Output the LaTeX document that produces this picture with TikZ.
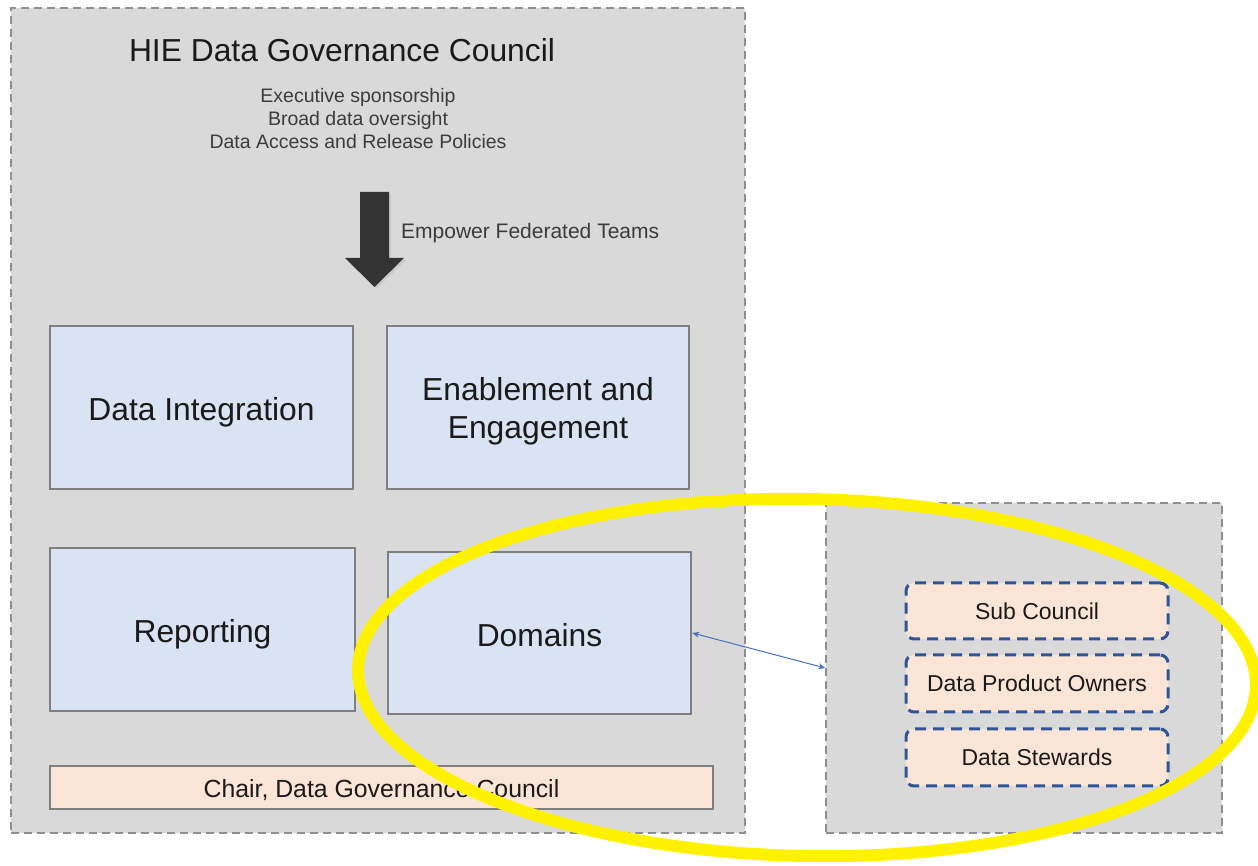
\documentclass[tikz,border=0pt]{standalone}
\usepackage{fontspec}
\setmainfont{Liberation Sans}
\usetikzlibrary{arrows.meta,shapes.geometric}
\definecolor{panelgray}{HTML}{D9D9D9}
\definecolor{panelline}{HTML}{8F8F8F}
\definecolor{boxblue}{HTML}{DAE3F3}
\definecolor{boxline}{HTML}{7F7F7F}
\definecolor{peach}{HTML}{FBE5D6}
\definecolor{dashblue}{HTML}{2F5597}
\definecolor{linkblue}{HTML}{4472C4}
\definecolor{arrowdark}{HTML}{333333}
\definecolor{txt}{HTML}{1A1A1A}
\tikzset{
  x=1pt, y=1pt,
  panel/.style={draw=panelline, fill=panelgray, line width=1.5pt, dash pattern=on 8pt off 5pt, inner sep=0pt},
  bluebox/.style={draw=boxline, fill=boxblue, line width=2.5pt, inner sep=0pt, align=center, font=\fontsize{31.8}{38}\selectfont, text=txt, text height=26.5pt, text depth=0pt},
  chairbox/.style={draw=boxline, fill=peach, line width=2pt, inner sep=0pt, font=\fontsize{24.8}{28}\selectfont, text=txt, text height=20pt, text depth=0pt},
  rolebox/.style={draw=dashblue, fill=peach, line width=3pt, dash pattern=on 11pt off 7pt, rounded corners=8pt, inner sep=0pt, minimum width=262pt, font=\fontsize{23}{28}\selectfont, text=txt},
  plaintext/.style={inner sep=0pt, text=txt},
}
\begin{document}
\begin{tikzpicture}
\useasboundingbox[fill=white] (0,0) rectangle (1258,866);
% containers
\node[panel, minimum width=734pt, minimum height=825pt] (council) at (378,445.5) {};
\node[panel, minimum width=396pt, minimum height=330pt] (federated) at (1024,198) {};
% title and description
\node[plaintext, font=\fontsize{31.8}{36}\selectfont] (title) at (342,816) {HIE Data Governance Council};
\node[plaintext, align=center, font=\fontsize{19.5}{23}\selectfont, text=txt!85] (desc) at (358,747) {Executive sponsorship\\Broad data oversight\\Data Access and Release Policies};
% big arrow
\fill[black!25, opacity=0.5] (362,672) -- (391,672) -- (391,606) -- (406,606) -- (376.5,577) -- (347,606) -- (362,606) -- cycle;
\fill[arrowdark] (360,674) -- (389,674) -- (389,608) -- (404,608) -- (374.5,579) -- (345,608) -- (360,608) -- cycle;
\node[plaintext, anchor=west, font=\fontsize{21}{25}\selectfont, text=txt!85] (empower) at (401,633) {Empower Federated Teams};
% function boxes
\node[bluebox, minimum width=303pt, minimum height=163pt] (integration) at (201.5,458.5) {Data Integration};
\node[bluebox, minimum width=302pt, minimum height=163pt, text height=64pt, text depth=2pt] (enablement) at (538,458.5) {Enablement and\\Engagement};
\node[bluebox, minimum width=305pt, minimum height=163pt] (reporting) at (202.5,236.5) {Reporting};
\node[bluebox, minimum width=303pt, minimum height=162pt] (domains) at (539.5,233) {Domains};
\node[chairbox, minimum width=663pt, minimum height=43pt] (chair) at (381.5,78.5) {Chair, Data Governance Council};
% role boxes
\node[rolebox, minimum height=56pt] (sub) at (1037,255) {Sub Council};
\node[rolebox, minimum height=57pt] (owners) at (1037,182.5) {Data Product Owners};
\node[rolebox, minimum height=57pt] (stewards) at (1037,108.5) {Data Stewards};
% link
\draw[linkblue, line width=1pt, {Stealth[length=7pt,width=6pt]}-{Stealth[length=7pt,width=6pt]}] (domains.east) -- (federated.west);
% highlight ellipse
\draw[yellow, line width=12pt, rotate around={-1.1:(807,188.5)}] (807,188.5) ellipse [x radius=449pt, y radius=178.5pt];
\end{tikzpicture}
\end{document}
